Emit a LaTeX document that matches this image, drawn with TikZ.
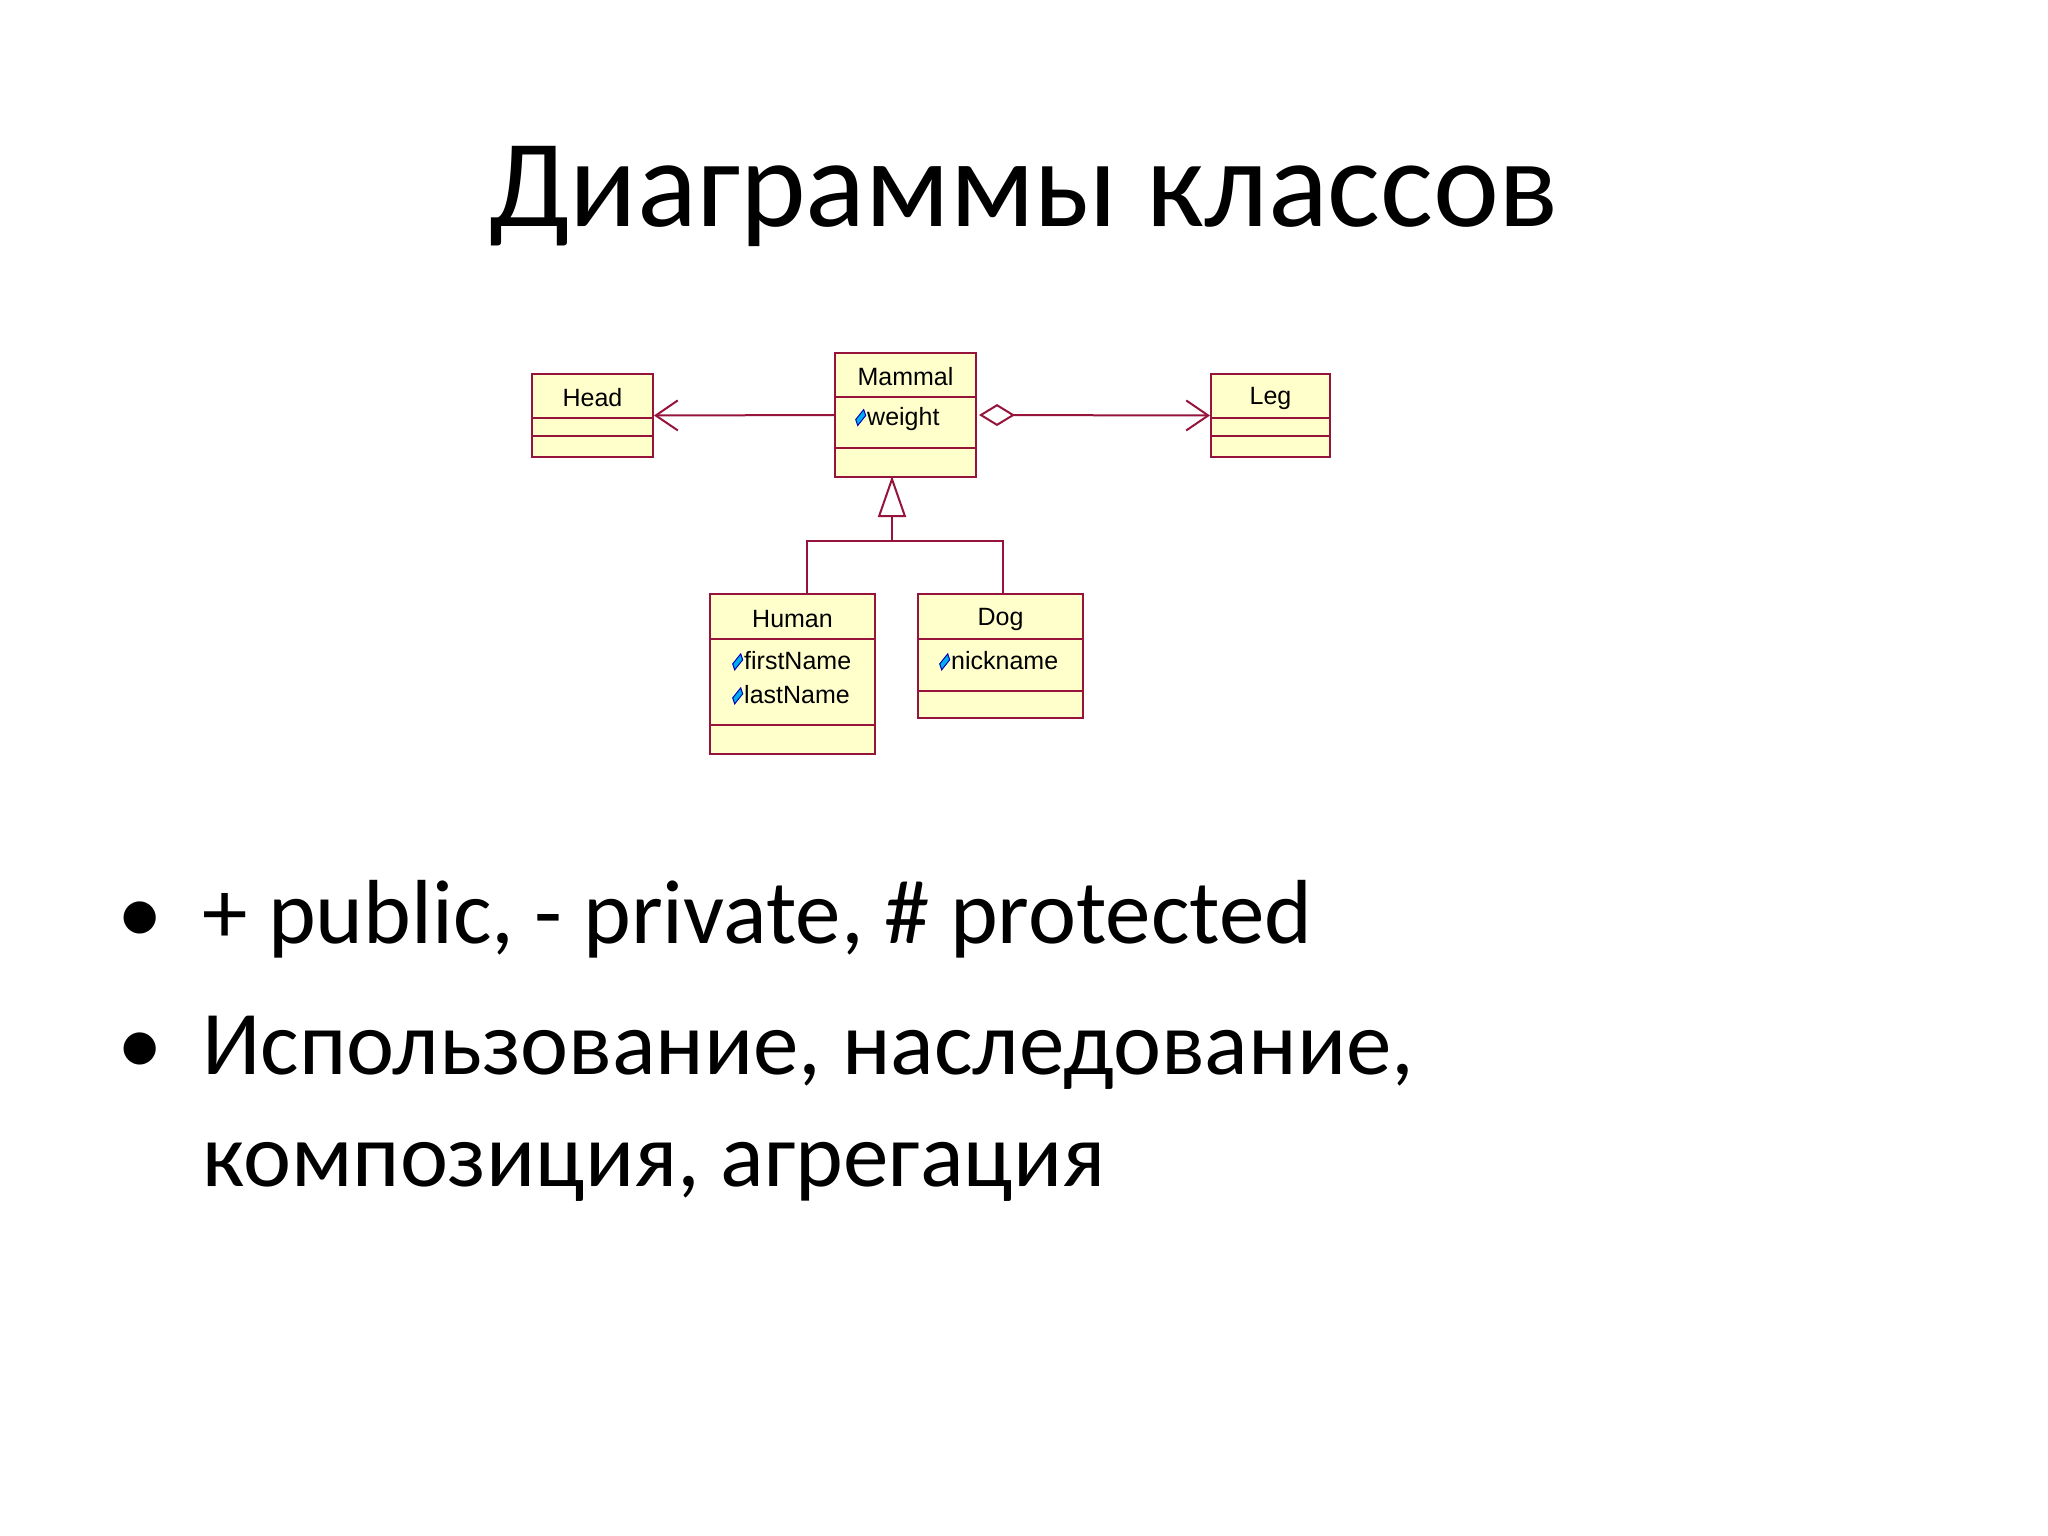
\documentclass[tikz,border=0pt]{standalone}
\usepackage{fontspec}
\usetikzlibrary{arrows.meta}
\setmainfont{Carlito}
\newfontfamily\umlfont{Liberation Sans}
\definecolor{umlred}{RGB}{150,20,60}
\definecolor{umlfill}{RGB}{255,255,204}
\tikzset{
  umlbox/.style={draw=umlred, fill=umlfill, line width=2pt, inner sep=0pt},
  divline/.style={draw=umlred, line width=2pt},
  conn/.style={draw=umlred, line width=2pt},
  umltext/.style={font=\umlfont\fontsize{25}{30}\selectfont, inner sep=0pt},
  attr/.style={umltext, anchor=west},
}
\newcommand\attricon{\tikz[baseline=-0.6ex,x=1pt,y=1pt]{\filldraw[draw=blue!70!black,fill=cyan,line width=1pt] (0,-8)--(8,2)--(6,8)--(-2,-2)--cycle;}\hspace{1pt}}
\begin{document}
\begin{tikzpicture}[x=1pt,y=-1pt]
\useasboundingbox (0,0) rectangle (2048,1536);
\fill[white] (0,0) rectangle (2048,1536);
\node[font=\fontsize{125}{140}\selectfont] (title) at (1024,196) {Диаграммы классов};
% boxes
\node[umlbox, minimum width=121pt, minimum height=83pt] (head) at (592.5,415.5) {};
\node[umlbox, minimum width=141pt, minimum height=124pt] (mammal) at (905.5,415) {};
\node[umlbox, minimum width=119pt, minimum height=83pt] (leg) at (1270.5,415.5) {};
\node[umlbox, minimum width=165pt, minimum height=160pt] (human) at (792.5,674) {};
\node[umlbox, minimum width=165pt, minimum height=124pt] (dog) at (1000.5,656) {};
% dividers
\draw[divline] (532,418) -- (653,418) (532,436) -- (653,436);
\draw[divline] (835,397) -- (976,397) (835,448) -- (976,448);
\draw[divline] (1211,418) -- (1330,418) (1211,436) -- (1330,436);
\draw[divline] (710,639) -- (875,639) (710,725) -- (875,725);
\draw[divline] (918,639) -- (1083,639) (918,691) -- (1083,691);
% texts
\node[umltext] (tHead) at (592.5,398) {Head};
\node[umltext] (tMammal) at (905.5,377) {Mammal};
\node[umltext] (tLeg) at (1270.5,398) {Leg};
\node[umltext] (tHuman) at (792.5,619) {Human};
\node[umltext] (tDog) at (1000.5,619) {Dog};
\node[attr] (aW) at (855,419) {\attricon weight};
\node[attr] (aF) at (732,661) {\attricon firstName};
\node[attr] (aL) at (732,695) {\attricon lastName};
\node[attr] (aN) at (939,661) {\attricon nickname};
% connectors
\draw[conn, -{Straight Barb[length=22pt,width=30pt,line width=2pt]}] (mammal.west) -- (head.east);
\draw[conn, {Diamond[open,length=36pt,width=22pt,line width=2pt,fill=white]}-{Straight Barb[length=22pt,width=30pt,line width=2pt]}] ([xshift=2pt]mammal.east) -- (leg.west);
\coordinate (gj) at (892,541);
\coordinate (gh) at (807,541);
\coordinate (gd) at (1003,541);
\draw[conn] (human.north -| gh) -- (gh) -- (gd) -- (dog.north -| gd);
\draw[conn, -{Triangle[open,length=41pt,width=28pt,line width=2pt,fill=white]}] (gj) -- ([yshift=2pt]mammal.south -| gj);
% bullets
\node[font=\fontsize{91}{100}\selectfont, anchor=base] (b1) at (140,943) {•};
\node[font=\fontsize{91}{100}\selectfont, anchor=base west, inner sep=0pt] (l1) at (202,943) {+ public, - private, \# protected};
\node[font=\fontsize{91}{100}\selectfont, anchor=base] (b2) at (140,1074) {•};
\node[font=\fontsize{91}{100}\selectfont, anchor=base west, inner sep=0pt] (l2) at (202,1074) {Использование, наследование,};
\node[font=\fontsize{91}{100}\selectfont, anchor=base west, inner sep=0pt] (l3) at (202,1186) {композиция, агрегация};
\end{tikzpicture}
\end{document}
